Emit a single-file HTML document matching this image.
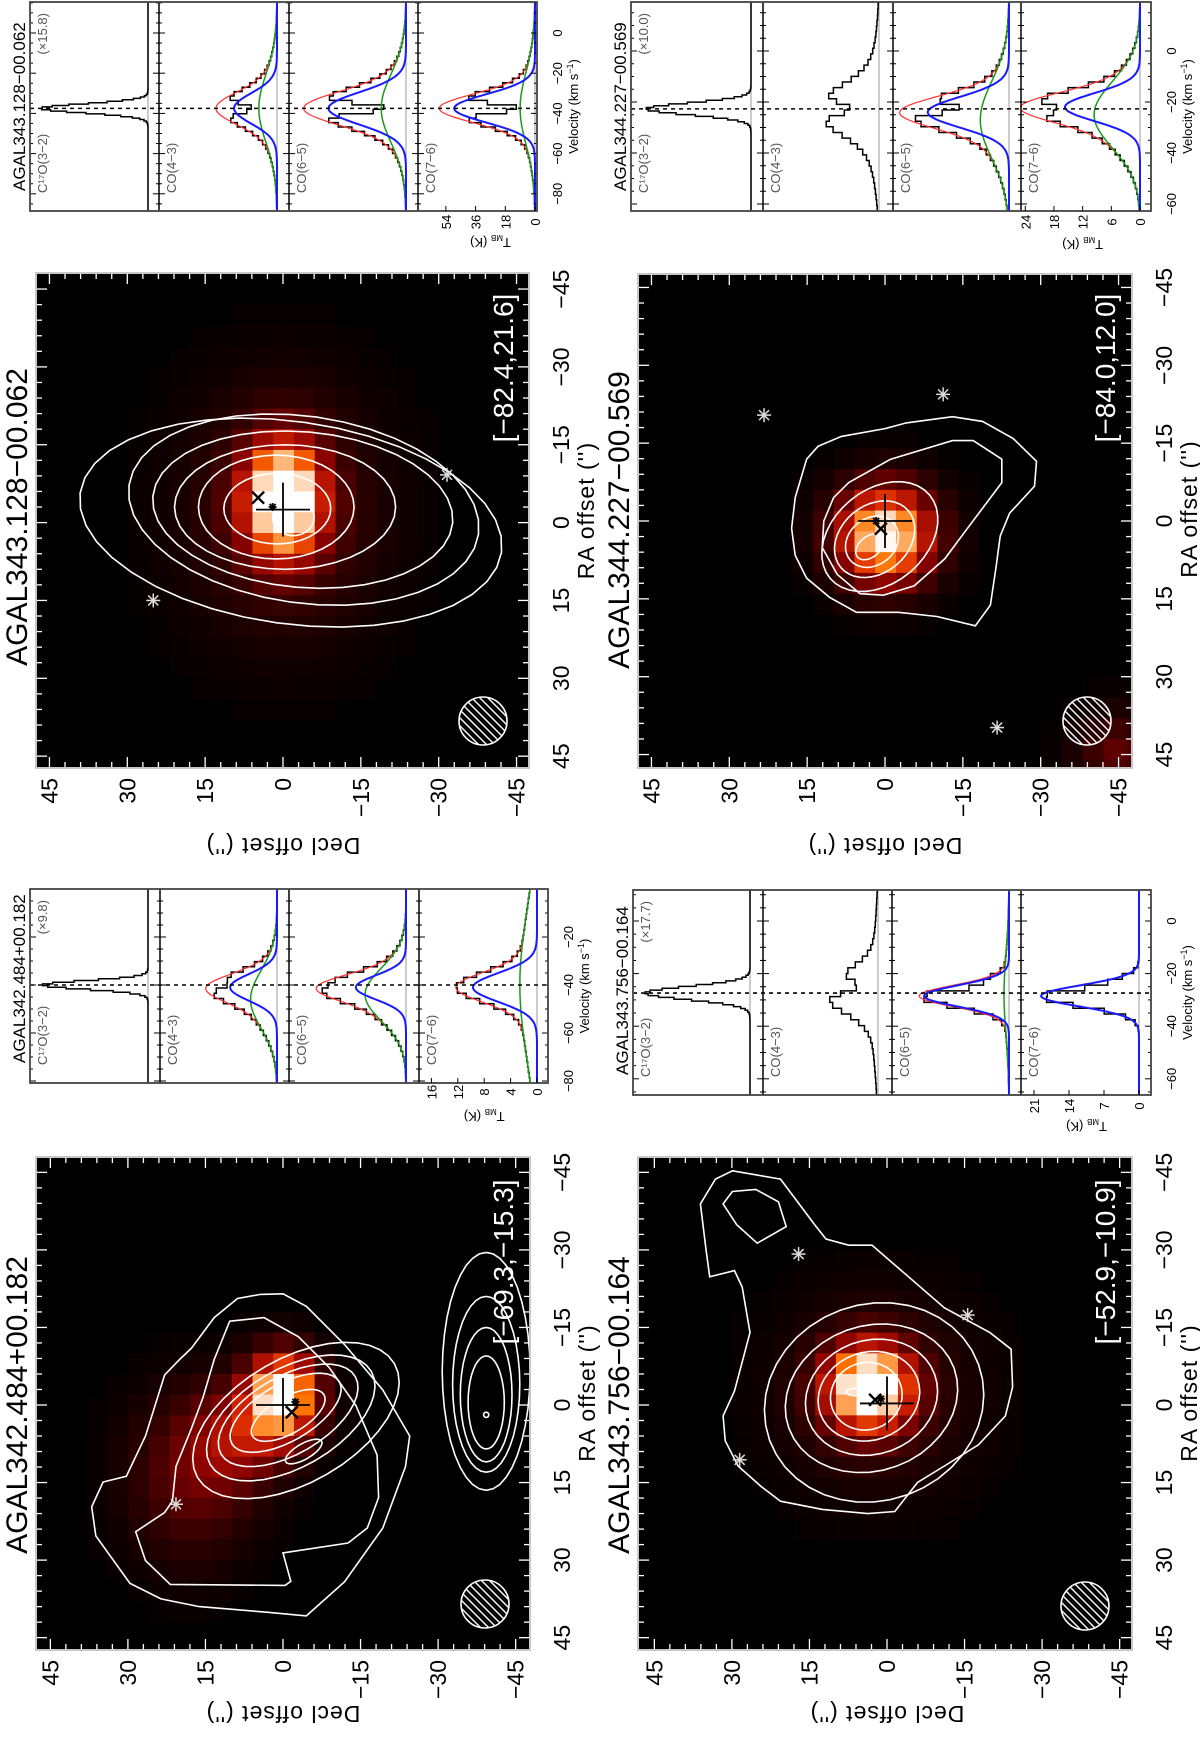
<!DOCTYPE html>
<html><head><meta charset="utf-8">
<style>
html,body{margin:0;padding:0;background:#fff;}
svg{display:block;font-family:"Liberation Sans",sans-serif;}
</style></head>
<body>
<svg id="fig" width="1200" height="1752" viewBox="0 0 1200 1752" xmlns="http://www.w3.org/2000/svg">
<rect x="0" y="0" width="1200" height="1752" fill="#fff"/>
<defs>
<clipPath id="cA"><rect x="36" y="1157" width="494" height="493"/></clipPath>
<clipPath id="cB"><rect x="36" y="273" width="493" height="495"/></clipPath>
<clipPath id="cC"><rect x="638" y="1157" width="494" height="493"/></clipPath>
<clipPath id="cD"><rect x="638" y="274" width="494" height="494"/></clipPath>
</defs>
</svg>
<script>
// ===== MAP DATA (offsets in arcsec: [dec, ra]) =====
const mapTitles = ["AGAL342.484+00.182","AGAL343.128\u221200.062","AGAL343.756\u221200.164","AGAL344.227\u221200.569"];
const mapBrackets = ["[\u221269.3,\u221215.3]","[\u221282.4,21.6]","[\u221252.9,\u221210.9]","[\u221284.0,12.0]"];
const tickValues = [45,30,15,0,-15,-30,-45];
// blob components: [dec, ra, amp, sigmaDec, sigmaRa]
const blobsA = [[0,-2,1.0,5,6],[8,6,0.35,7,7],[18,14,0.3,9,12]];
const blobsB = [[0,-4.5,1.0,5.5,8],[0,-2,0.25,14,18]];
const blobsC = [[3.6,-3.5,1.0,6,6],[2,-2,0.2,14,14]];
const blobsD = [[0,2.8,1.0,7,7],[-45,45,0.3,6,6]];
// contour ellipses: [dec, ra, semiA, semiB, angleDeg]
const ellA = [[-2.5,3,12,22,120],[-1.5,2.5,9.5,18,120],[-1,2,7.5,15,120],[-0.5,1.5,5.5,12,120],[-1,2,3.5,8,120],[-4,9,1.5,4,120],
              [-39.3,-6.5,8.5,23,0],[-39.3,-4,6.5,17,0],[-39.3,-2,5,13,0],[-39.3,-0.5,3.5,9,0],[-39.3,1.9,0.5,0.5,0]];
const ellB = [[-1.5,0,41,19.5,-8],[-4,-2.5,34,18,-8],[-3.8,-2.5,29,15,-5],[-0.4,-3,21.3,12,0],[1.3,-3,15,10,0],[1.1,-2.7,10.3,6.8,0],[-2,-1,4,3.5,0]];
const ellC = [[2.5,-0.5,21.5,19,20],[3,-1.3,17,14,20],[3,-1.5,13,11,20],[3.5,-1.7,10,8.5,20],[4,-1.7,7,6.5,20],[6,-2.5,2,0.7,0]];
const ellD = [[1,3,12.5,9,40],[2,3.5,8.5,6.5,40],[2.5,4,5.5,4.5,40],[3,5,3,2,40]];
const polyA = [
 [[4.4,-21.4],[0,-21.5],[-4.5,-19.1],[-11.9,-11.7],[-19.3,-2.9],[-24.5,6.0],[-23.7,11.9],[-19.3,23.8],[-11.9,34.2],[-4.5,40.8],[2.9,40.1],[16.2,39.0],[23.6,37.5],[29.6,34.5],[36.2,25.3],[37.0,19.7],[34.8,14.9],[30.3,13.8],[26.6,6.0],[22.9,-5.8],[20.0,-8.8],[17.7,-11.0],[13.3,-16.9],[8.8,-20.6]],
 [[10.3,-16.2],[3.7,-16.9],[-3.0,-13.2],[-8.9,-7.3],[-14.1,0.1],[-18.2,9.7],[-18.5,17.9],[-16.3,23.8],[-12.6,26.7],[0,28.6],[-1.5,34.1],[-0.4,34.9],[21.8,34.7],[26.6,30.1],[28.5,24.5],[22.9,20.8],[21.4,18.6],[20.7,11.9],[17.7,4.5],[15.5,-1.4],[13.3,-8.8]]
];
const polyC = [
 [[29.9,-45.3],[20.6,-43.7],[14.0,-34.9],[11.8,-32.1],[7.4,-30.9],[2.9,-30.9],[-3.7,-25.2],[-11.1,-18.8],[-19.9,-14.0],[-24.0,-10.8],[-24.3,-3.5],[-22.9,2.1],[-17.7,7.7],[-11.1,11.8],[-5.9,15.0],[-1.5,20.6],[3.7,21.0],[12.5,20.2],[20.6,18.6],[24.3,15.8],[28.8,11.8],[31.3,6.9],[31.7,2.1],[29.5,-2.7],[26.5,-14.0],[28.0,-22.8],[29.5,-26.0],[34.3,-24.8],[35.0,-30.1],[36.1,-38.9],[33.2,-43.7]],
 [[31.7,-38.9],[29.9,-41.3],[25.4,-41.7],[21.0,-39.3],[19.5,-34.5],[25.1,-31.3],[29.1,-34.9]]
];
const polyD = [
 [[15.1,-11.9],[12.9,-14.4],[8.4,-16.3],[0,-17.8],[-4.1,-18.9],[-13.0,-20.1],[-18.8,-19.2],[-24.7,-15.9],[-29.2,-11.5],[-28.8,-6.7],[-24.0,-1.5],[-22.2,2.9],[-21.4,8.8],[-20.3,16.2],[-17.4,20.2],[-10.0,18.4],[-2.6,17.6],[5.5,17.6],[10.7,14.7],[15.1,11.0],[17.3,6.6],[18.0,1.4],[17.3,-4.5]],
 [[7.0,-7.4],[-1.1,-11.9],[-13.0,-15.5],[-17.0,-15.5],[-22.5,-11.9],[-22.5,-7.4],[-15.9,1.4],[-11.5,7.3],[-5.6,12.5],[0.3,14.3],[4.8,14.0],[9.2,10.3],[12.1,5.1],[11.8,0],[9.9,-4.5]]
];
const polyB = [];
// point sources [dec, ra]
const starsA = [[20.7,19.2]];
const starsB = [[25,15],[-31.6,-9.2]];
const starsC = [[17.1,-29.2],[-15.6,-17.4],[28.5,10.6]];
const starsD = [[23.3,-20.4],[-11.2,-24.4],[-21.6,39.8]];
// [plusDec, plusRa, xDec, xRa, starDec, starRa]
const markA = [0,0,-1.7,1.4,-2.4,-0.6];
const markB = [0,-2.5,4.8,-4.8,2,-3];
const markC = [0,-0.3,2.3,-1,1.2,-1.2];
const markD = [0,0,0.8,1.5,1.7,0];

// ===== SPECTRA DATA (K, km/s): [amp, centre, sigma] per panel [C17O, CO43, CO65, CO76] =====
const specTitles = ["AGAL342.484+00.182","AGAL343.128\u221200.062","AGAL343.756\u221200.164","AGAL344.227\u221200.569"];
const specMult = ["(\u00d79.8)","(\u00d715.8)","(\u00d717.7)","(\u00d710.0)"];
const panelNames = ["C\u00b9\u2077O(3\u22122)","CO(4\u22123)","CO(6\u22125)","CO(7\u22126)"];
const vlsr = [-40,-37.5,-27.4,-22.7];
const velTicksA = [-80,-60,-40,-20];
const velTicksB = [-80,-60,-40,-20,0];
const velTicksC = [-60,-40,-20,0];
const velTicksD = [-60,-40,-20,0];
const tTicksA = [0,4,8,12,16];
const tTicksB = [0,18,36,54];
const tTicksC = [0,7,14,21];
const tTicksD = [0,6,12,18,24];
const blueA = [[16,-40,1.8],[7.1,-41,5.5],[7.6,-41,5],[9.7,-41,6]];
const greenA = [null,[4,-46,12],[6.2,-44,11],[2.6,-40,30]];
const absA = [null,[3,-40,2],[1.5,-40,2],null];
const blueB = [[65,-37.5,2.3],[26,-37.5,7.5],[47,-37.5,8],[49,-37.5,7]];
const greenB = [null,[11,-37.5,17],[15,-37.5,17],[9,-37.5,18]];
const absB = [null,[22,-37.5,2.5],[50,-37.5,2.5],[48,-37.5,2.5]];
const blueC = [[21,-27.4,2.5],[10,-27,7],[17,-28.5,4],[19.6,-28.5,4]];
const greenC = [null,[1.5,-30,20],[1,-28,15],null];
const absC = [null,[7,-25,2.5],[6,-25,1.5],[4,-25,1.5]];
const blueD = [[22,-22.7,2.3],[11,-23,8],[17,-24,6],[15.7,-22,5.5]];
const greenD = [null,[3,-25,18],[6,-27,15],[9.6,-25,13]];
const absD = [null,[8,-22.7,2.5],[12,-22.7,2],[8,-22.7,2]];
const fitShown = [[false,true,true,true],[false,true,true,true],[false,false,true,true],[false,false,true,true]];

// ===== layout (geometry, not data) =====
const NS = "http://www.w3.org/2000/svg";
const svg = document.getElementById('fig');
function mk(tag, attrs, parent){ const e=document.createElementNS(NS,tag); for(const k in attrs) e.setAttribute(k,attrs[k]); (parent||svg).appendChild(e); return e; }

const maps = [
 {box:[36,1157,530,1650],dx:283,ry:1405,k:5.17,clip:'cA',blobs:blobsA,ell:ellA,poly:polyA,stars:starsA,mark:markA,beam:[485,1604],br:[513,1262],title:1405,declY:1706},
 {box:[36,273,529,768],dx:283,ry:522.6,k:5.19,clip:'cB',blobs:blobsB,ell:ellB,poly:polyB,stars:starsB,mark:markB,beam:[483,721],br:[513,368],title:517,declY:838},
 {box:[638,1157,1132,1650],dx:887,ry:1405,k:5.17,clip:'cC',blobs:blobsC,ell:ellC,poly:polyC,stars:starsC,mark:markC,beam:[1085,1606],br:[1115,1262],title:1405,declY:1706},
 {box:[638,274,1132,768],dx:885,ry:521,k:5.19,clip:'cD',blobs:blobsD,ell:ellD,poly:polyD,stars:starsD,mark:markD,beam:[1087,721],br:[1115,368],title:520,declY:838}
];
function cmap(t){
 const st=[[0,0,0,0],[0.2,55,0,0],[0.4,135,0,0],[0.6,215,35,0],[0.75,255,115,0],[0.88,255,195,145],[1,255,255,255]];
 t=Math.max(0,Math.min(1,t));
 for(let i=1;i<st.length;i++){ if(t<=st[i][0]){const a=st[i-1],b=st[i],f=(t-a[0])/(b[0]-a[0]);
   return `rgb(${Math.round(a[1]+f*(b[1]-a[1]))},${Math.round(a[2]+f*(b[2]-a[2]))},${Math.round(a[3]+f*(b[3]-a[3]))})`;}}
 return 'rgb(255,255,255)';
}
maps.forEach((m,mi)=>{
 const X=d=>m.dx-d*m.k, Y=r=>m.ry+r*m.k;
 const [x0,y0,x1,y1]=m.box;
 const g=mk('g',{});
 
 
 const bg=mk('rect',{x:x0,y:y0,width:x1-x0,height:y1-y0,fill:'#000'},g);
 
 
 const hg=mk('g',{'clip-path':`url(#${m.clip})`},g);
 
 
 const cs=4;
 for(let d=-48;d<=48;d+=cs){ for(let r=-48;r<=48;r+=cs){
   let I=0; m.blobs.forEach(b=>{I+=b[2]*Math.exp(-0.5*(((d-b[0])/b[3])**2+((r-b[1])/b[4])**2));});
   if(I<0.02) continue;
   const c=mk('rect',{x:X(d+cs/2),y:Y(r-cs/2),width:cs*m.k+0.6,height:cs*m.k+0.6,fill:cmap(I)},hg);
   
   
 }}
 const cg=mk('g',{'clip-path':`url(#${m.clip})`,fill:'none',stroke:'#fff','stroke-width':1.6},g);
 
 
 m.poly.forEach(p=>{
   const pl=mk('polygon',{points:p.map(q=>X(q[0]).toFixed(1)+','+Y(q[1]).toFixed(1)).join(' ')},cg);
   
   
 });
 m.ell.forEach(e=>{
   const th=e[4]*Math.PI/180, pts=[];
   for(let i=0;i<40;i++){const t=i/40*2*Math.PI; const a=e[2]*Math.cos(t), b=e[3]*Math.sin(t);
     const dd=e[0]+a*Math.cos(th)-b*Math.sin(th), rr=e[1]+a*Math.sin(th)+b*Math.cos(th);
     pts.push(X(dd).toFixed(1)+','+Y(rr).toFixed(1));}
   const pl=mk('polygon',{points:pts.join(' ')},cg);
   
   
 });
 m.stars.forEach(s=>{
   const sx=X(s[0]), sy=Y(s[1]);
   const sg=mk('g',{stroke:'#ddd','stroke-width':1.5},g);
   
   
   mk('line',{x1:sx-7,y1:sy,x2:sx+7,y2:sy},sg); mk('line',{x1:sx,y1:sy-7,x2:sx,y2:sy+7},sg);
   mk('line',{x1:sx-5,y1:sy-5,x2:sx+5,y2:sy+5},sg); mk('line',{x1:sx-5,y1:sy+5,x2:sx+5,y2:sy-5},sg);
 });
 const mkr=m.mark;
 const pg=mk('g',{stroke:'#000','stroke-width':1.8},g);
 
 
 const px=X(mkr[0]), py=Y(mkr[1]);
 mk('line',{x1:px,y1:py-27,x2:px,y2:py+27},pg); mk('line',{x1:px-27,y1:py,x2:px+27,y2:py},pg);
 const xx=X(mkr[2]), xy=Y(mkr[3]);
 mk('line',{x1:xx-6,y1:xy-6,x2:xx+6,y2:xy+6,'stroke-width':2.4},pg); mk('line',{x1:xx-6,y1:xy+6,x2:xx+6,y2:xy-6,'stroke-width':2.4},pg);
 const sx=X(mkr[4]), sy=Y(mkr[5]);
 mk('line',{x1:sx-4,y1:sy,x2:sx+4,y2:sy},pg); mk('line',{x1:sx,y1:sy-4,x2:sx,y2:sy+4},pg);
 mk('line',{x1:sx-3,y1:sy-3,x2:sx+3,y2:sy+3},pg); mk('line',{x1:sx-3,y1:sy+3,x2:sx+3,y2:sy-3},pg);
 const [bx,by]=m.beam;
 const bm=mk('g',{},g);
 
 
 const cid='bc'+mi;
 const cp=mk('clipPath',{id:cid},bm); mk('circle',{cx:bx,cy:by,r:24},cp);
 const hh=mk('g',{'clip-path':`url(#${cid})`,stroke:'#fff','stroke-width':1.4},bm);
 for(let o=-60;o<=60;o+=8){ mk('line',{x1:bx+o-30,y1:by-30,x2:bx+o+30,y2:by+30},hh); }
 mk('circle',{cx:bx,cy:by,r:24,fill:'none',stroke:'#fff','stroke-width':1.6},bm);
 const tg=mk('g',{stroke:'#fff','stroke-width':1.3},g);
 
 
 for(let v=-45;v<=45;v+=3){
   const L=(v%15===0)?11:6;
   const tx=X(v); mk('line',{x1:tx,y1:y1,x2:tx,y2:y1-L},tg); mk('line',{x1:tx,y1:y0,x2:tx,y2:y0+L},tg);
   const ty=Y(v); mk('line',{x1:x0,y1:ty,x2:x0+L,y2:ty},tg); mk('line',{x1:x1,y1:ty,x2:x1-L,y2:ty},tg);
 }
 const fr=mk('rect',{x:x0,y:y0,width:x1-x0,height:y1-y0,fill:'none',stroke:'#c8c8c8','stroke-width':2},g);
 
 
 tickValues.forEach(v=>{
   const lab=(v<0?'\u2212':'')+Math.abs(v);
   const tx=X(v)+8, tyy=y1+10;
   const t1=mk('text',{x:tx,y:tyy,'font-size':23,'text-anchor':'end',transform:`rotate(-90 ${tx} ${tyy})`,fill:'#000'},g);
   t1.textContent=lab;
   
   
   const rx=x1+40, ry=Y(v);
   const t2=mk('text',{x:rx,y:ry,'font-size':23,'text-anchor':'middle',transform:`rotate(-90 ${rx} ${ry})`,fill:'#000'},g);
   t2.textContent=lab;
   
   
 });
 const rt=mk('text',{x:x1+65,y:m.ry-12,'font-size':23,'text-anchor':'middle',transform:`rotate(-90 ${x1+65} ${m.ry-12})`,fill:'#000','letter-spacing':'1'},g);
 rt.textContent="RA offset ('')";
 
 
 const dt=mk('text',{x:m.dx,y:m.declY,'font-size':23,'text-anchor':'middle',transform:`rotate(180 ${m.dx} ${m.declY})`,fill:'#000','letter-spacing':'1'},g);
 dt.textContent="Decl offset ('')";
 
 
 const tt=mk('text',{x:x0-9,y:m.title,'font-size':30,'text-anchor':'middle',transform:`rotate(-90 ${x0-9} ${m.title})`,fill:'#000'},g);
 tt.textContent=mapTitles[mi];
 
 
 const bt=mk('text',{x:m.br[0],y:m.br[1],'font-size':28,'text-anchor':'middle',transform:`rotate(-90 ${m.br[0]} ${m.br[1]})`,fill:'#fff'},g);
 bt.textContent=mapBrackets[mi];
 
 
});

const specs = [
 {box:[30,889,548,1083],div:[160,289,419],yv0:889,kv:2.4,base:[148,277,406,537],kT:6.6,ticks:velTicksA,tt:tTicksA,blue:blueA,green:greenA,abs:absA,tlY:1092,tmY:1112},
 {box:[30,2,537,211],div:[159,289,418],yv0:33,kv:2.01,base:[148,277,406,535],kT:1.65,ticks:velTicksB,tt:tTicksB,blue:blueB,green:greenB,abs:absB,tlY:222,tmY:238},
 {box:[633,890,1151,1095],div:[763,892,1021],yv0:921,kv:2.63,base:[750,878,1009,1139],kT:5.0,ticks:velTicksC,tt:tTicksC,blue:blueC,green:greenC,abs:absC,tlY:1106,tmY:1122},
 {box:[631,2,1151,211],div:[763,893,1021],yv0:51,kv:2.55,base:[751,879,1009,1140],kT:4.78,ticks:velTicksD,tt:tTicksD,blue:blueD,green:greenD,abs:absD,tlY:222,tmY:240}
];
const G=(c,v)=>c?c[0]*Math.exp(-0.5*((v-c[1])/c[2])**2):0;
specs.forEach((s,si)=>{
 const [x0,y0,x1,y1]=s.box;
 const V=v=>s.yv0-v*s.kv;
 const vTop=(s.yv0-y0)/s.kv, vBot=(s.yv0-y1)/s.kv;
 const g=mk('g',{});
 
 
 const edges=[x0].concat(s.div).concat([x1]);
 for(let p=0;p<4;p++){
   const pl=edges[p], pr=edges[p+1], b=s.base[p];
   const T=x=>b-x*s.kT;
   const pgp=mk('g',{},g);
   
   
   const bl=mk('line',{x1:b,y1:y0,x2:b,y2:y1,stroke:'#bbb','stroke-width':1.5},pgp);
   
   
   const dv=(p===0)?0.7:2.2;
   const model=v=>G(s.blue[p],v)+G(s.green[p],v)-G(s.abs[p],v);
   let d='';
   for(let v=vBot;v<vTop;v+=dv){
     const vc=v+dv/2; const xv=Math.max(pl+2,Math.min(pr,T(Math.max(model(vc),-0.3))));
     d+=(d?'L':'M')+xv.toFixed(1)+','+V(v).toFixed(1)+'L'+xv.toFixed(1)+','+V(Math.min(v+dv,vTop)).toFixed(1);
   }
   const hp=mk('path',{d:d,fill:'none',stroke:'#000','stroke-width':1.5},pgp);
   
   
   if(fitShown[si][p]){
     const curves=[['red','#ff3030',v=>G(s.blue[p],v)+G(s.green[p],v),1.2],['green','#1a9a1a',v=>G(s.green[p],v),1.5],['blue','#1a1aff',v=>G(s.blue[p],v),2]];
     curves.forEach(c=>{
       if(c[0]==='green'&&!s.green[p]) return;
       let cd='';
       for(let v=vBot;v<=vTop;v+=0.5){ cd+=(cd?'L':'M')+Math.max(pl,T(c[2](v))).toFixed(1)+','+V(v).toFixed(1); }
       const cp=mk('path',{d:cd,fill:'none',stroke:c[1],'stroke-width':c[3]},pgp);
       
       
     });
   }
   const lx=pl+17, ly=y1-18;
   const lt=mk('text',{x:lx,y:ly,'font-size':13,fill:'#555',transform:`rotate(-90 ${lx} ${ly})`},pgp);
   lt.textContent=panelNames[p];
   
   
   if(p>0){ const dl=mk('line',{x1:pl,y1:y0,x2:pl,y2:y1,stroke:'#000','stroke-width':1.5},g);
     
      }
   for(let v=Math.ceil(vBot/5)*5;v<=vTop;v+=5){
     const L=(v%20===0)?6:3;
     mk('line',{x1:pl,y1:V(v),x2:pl+L,y2:V(v),stroke:'#000','stroke-width':1},g);
     mk('line',{x1:pr,y1:V(v),x2:pr-L,y2:V(v),stroke:'#000','stroke-width':1},g);
   }
 }
 const dash=mk('line',{x1:x0,y1:V(vlsr[si]),x2:x1,y2:V(vlsr[si]),stroke:'#000','stroke-width':1.6,'stroke-dasharray':'4,4'},g);
 
 
 const fr=mk('rect',{x:x0,y:y0,width:x1-x0,height:y1-y0,fill:'none',stroke:'#444','stroke-width':1.8},g);
 
 
 s.ticks.forEach(v=>{
   const tx=x1+25, ty=V(v);
   const t=mk('text',{x:tx,y:ty,'font-size':13,'text-anchor':'middle',transform:`rotate(-90 ${tx} ${ty})`},g);
   t.textContent=(v<0?'\u2212':'')+Math.abs(v);
   
   
 });
 const vcx=x1+41, vcy=(y0+y1)/2;
 const vt=mk('text',{x:vcx,y:vcy,'font-size':13,'text-anchor':'middle',transform:`rotate(-90 ${vcx} ${vcy})`},g);
 vt.innerHTML='Velocity (km s<tspan dy="-5" font-size="9">\u22121</tspan><tspan dy="5">)</tspan>';
 
 
 const b3=s.base[3];
 s.tt.forEach(T=>{
   const tx=b3-T*s.kT+5, ty=s.tlY;
   const t=mk('text',{x:tx,y:ty,'font-size':13,'text-anchor':'middle',transform:`rotate(-90 ${tx} ${ty})`},g);
   t.textContent=T;
   
   
   mk('line',{x1:b3-T*s.kT,y1:y1,x2:b3-T*s.kT,y2:y1-5,stroke:'#000'},g);
 });
 const tmx=b3-s.tt[s.tt.length-1]*s.kT*0.5, tmy=s.tmY;
 const tm=mk('text',{x:tmx,y:tmy,'font-size':13,'text-anchor':'middle',transform:`rotate(180 ${tmx} ${tmy})`},g);
 tm.innerHTML='T<tspan dy="3" font-size="8">MB</tspan><tspan dy="-3"> (K)</tspan>';
 
 
 const ttx=x0-5, tty=y1-20;
 const tt=mk('text',{x:ttx,y:tty,'font-size':17,transform:`rotate(-90 ${ttx} ${tty})`},g);
 tt.textContent=specTitles[si];
 
 
 const mx=x0+17, my=y0+11;
 const mt=mk('text',{x:mx,y:my,'font-size':13,fill:'#555','text-anchor':'end',transform:`rotate(-90 ${mx} ${my})`},g);
 mt.textContent=specMult[si];
 
 
});
</script>
</body></html>
